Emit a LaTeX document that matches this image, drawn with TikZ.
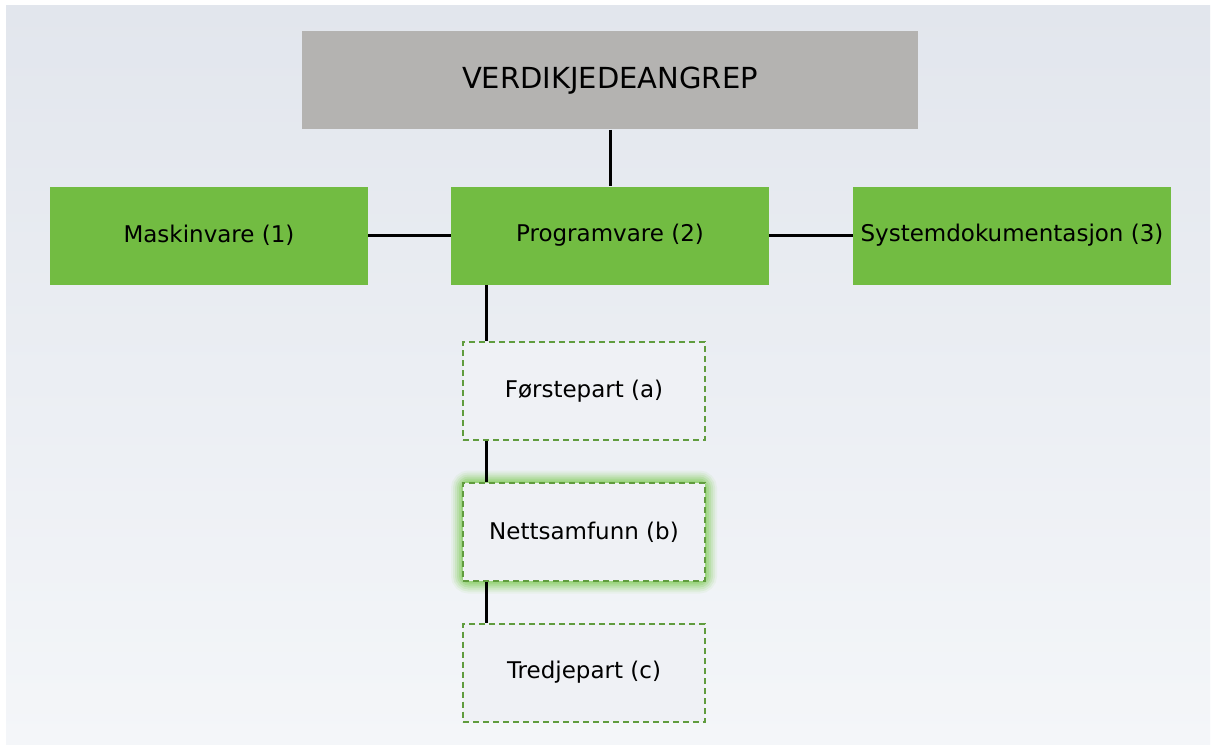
\documentclass[tikz,border=0pt]{standalone}
\usepackage{fontspec}
\setmainfont{DejaVu Sans}
\usetikzlibrary{positioning}

\definecolor{bgtop}{RGB}{226,230,237}
\definecolor{bgbot}{RGB}{244,246,249}
\definecolor{titlegray}{RGB}{180,179,177}
\definecolor{leafgreen}{RGB}{114,188,66}
\definecolor{dashgreen}{RGB}{96,156,62}
\definecolor{glowgreen}{RGB}{130,205,90}
\definecolor{boxfill}{RGB}{239,241,245}

\tikzset{every picture/.style={line width=0.75pt}}
\tikzset{
  titlebox/.style={fill=titlegray, minimum width=616pt, minimum height=98pt, inner sep=0pt, font=\fontsize{29}{34}\selectfont},
  greenbox/.style={fill=leafgreen, minimum width=318pt, minimum height=98pt, inner sep=0pt, font=\fontsize{23}{28}\selectfont},
  partbox/.style={draw=dashgreen, fill=boxfill, line width=2pt, dash pattern=on 6pt off 4pt, minimum width=242pt, minimum height=98pt, inner sep=0pt, font=\fontsize{23}{28}\selectfont},
  link/.style={line width=3pt, black}
}

\begin{document}
\begin{tikzpicture}[x=1pt,y=1pt,yscale=-1,xscale=1]
\useasboundingbox (0,0) rectangle (1214,746);
%Background
\fill[white] (0,0) rectangle (1214,746);
\shade[top color=bgtop, bottom color=bgbot] (6,6) rectangle (1210,744);

%Glow round the middle part
\foreach \w/\o in {24/0.08, 20/0.12, 16/0.16, 12/0.22, 8/0.28, 4/0.36}
  \draw[glowgreen, line width=\w pt, opacity=\o, rounded corners=6pt] (463,482.5) rectangle (705,581.5);

% Text Node
\node[titlebox] (angrep) at (610,80.5) {VERDIKJEDEANGREP};
% Text Node
\node[greenbox] (maskin) at (209,235.5) {Maskinvare (1)};
% Text Node
\node[greenbox] (program) at (610,235.5) {Programvare (2)};
% Text Node
\node[greenbox] (systemdok) at (1012,235.5) {Systemdokumentasjon (3)};
% Text Node
\node[partbox] (forste) at (584,391) {Førstepart (a)};
% Text Node
\node[partbox] (nett) at (584,532) {Nettsamfunn (b)};
% Text Node
\node[partbox] (tredje) at (584,672.5) {Tredjepart (c)};

%Straight Lines
\draw[link] (angrep) -- (program);
\draw[link] (maskin) -- (program);
\draw[link] (program) -- (systemdok);
%Straight Lines
\coordinate (spine) at (486,0);
\draw[link] (spine |- program.south) -- (spine |- forste.north);
\draw[link] (spine |- forste.south) -- (spine |- nett.north);
\draw[link] (spine |- nett.south) -- (spine |- tredje.north);

\end{tikzpicture}
\end{document}
